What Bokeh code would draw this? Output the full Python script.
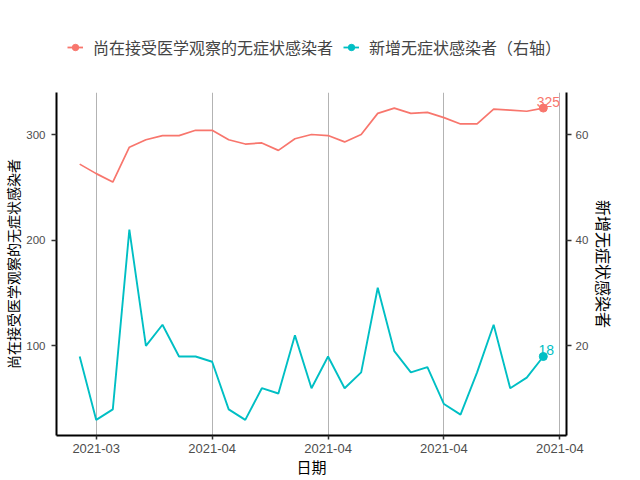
import pandas as pd
from bokeh.plotting import figure
from bokeh.layouts import column
from bokeh.models import (Range1d, LinearAxis, FixedTicker, DatetimeTickFormatter,
                          Legend, LegendItem, ColumnDataSource)
from bokeh.embed import file_html
from bokeh.resources import INLINE
from bokeh.core.properties import value

# ---------------- data ----------------
dates = ["2021-03-28", "2021-03-29", "2021-03-30", "2021-03-31", "2021-04-01",
         "2021-04-02", "2021-04-03", "2021-04-04", "2021-04-05", "2021-04-06",
         "2021-04-07", "2021-04-08", "2021-04-09", "2021-04-10", "2021-04-11",
         "2021-04-12", "2021-04-13", "2021-04-14", "2021-04-15", "2021-04-16",
         "2021-04-17", "2021-04-18", "2021-04-19", "2021-04-20", "2021-04-21",
         "2021-04-22", "2021-04-23", "2021-04-24", "2021-04-25"]
under_observation = [272, 263, 255, 288, 295, 299, 299, 304, 304, 295,
                     291, 292, 285, 296, 300, 299, 293, 300, 320, 325,
                     320, 321, 316, 310, 310, 324, 323, 322, 325]
new_cases = [18, 6, 8, 42, 20, 24, 18, 18, 17, 8,
             6, 12, 11, 22, 12, 18, 12, 15, 31, 19,
             15, 16, 9, 7, 15, 24, 12, 14, 18]
tick_dates = ["2021-03-29", "2021-04-05", "2021-04-12", "2021-04-19", "2021-04-26"]
left_ticks = [100, 200, 300]
right_ticks = [20, 40, 60]
name_obs = "尚在接受医学观察的无症状感染者"
name_new = "新增无症状感染者（右轴）"
x_title = "日期"
left_title = "尚在接受医学观察的无症状感染者"
right_title = "新增无症状感染者"

RED = "#F8766D"
CYAN = "#00BFC4"
CJK = "Noto Sans CJK SC"
LATIN = "Liberation Sans"

x = pd.to_datetime(dates)
src = ColumnDataSource(dict(x=x, obs=under_observation, new=new_cases))
last = ColumnDataSource(dict(x=x[-1:], obs=under_observation[-1:], new=new_cases[-1:],
                             obs_t=[str(under_observation[-1])], new_t=[str(new_cases[-1])]))

def ms(d):
    return (pd.Timestamp(d) - pd.Timestamp("1970-01-01")) // pd.Timedelta("1ms")

x0, x1 = ms(dates[0]), ms(dates[-1])
pad = (x1 - x0) * 0.05
ymin = min(min(under_observation), min(new_cases) * 5)
ymax = max(max(under_observation), max(new_cases) * 5)
ypad = (ymax - ymin) * 0.05

# ---------------- main chart ----------------
p = figure(width=640, height=400, x_axis_type="datetime", output_backend="svg",
           toolbar_location=None,
           x_range=Range1d(x0 - pad, x1 + pad),
           y_range=Range1d(ymin - ypad, ymax + ypad),
           min_border_left=55, min_border_right=74, min_border_top=12, min_border_bottom=45)
p.extra_y_ranges = {"right": Range1d((ymin - ypad) / 5, (ymax + ypad) / 5)}
p.outline_line_color = None
p.background_fill_color = "white"

tick_ms = [ms(d) for d in tick_dates]
fmt = "%Y-%m"
p.xaxis[0].ticker = FixedTicker(ticks=tick_ms)
p.xaxis[0].formatter = DatetimeTickFormatter(
    milliseconds=fmt, seconds=fmt, minsec=fmt, minutes=fmt, hourmin=fmt,
    hours=fmt, days=fmt, months=fmt, years=fmt)
p.xgrid.ticker = FixedTicker(ticks=tick_ms)
p.xgrid.grid_line_color = "#B3B3B3"
p.xgrid.grid_line_width = 1
p.ygrid.visible = False

p.yaxis[0].ticker = FixedTicker(ticks=left_ticks)
right_axis = LinearAxis(y_range_name="right", ticker=FixedTicker(ticks=right_ticks))
p.add_layout(right_axis, "right")

p.xaxis.axis_label = x_title
p.yaxis[0].axis_label = left_title
right_axis.axis_label = right_title

for ax in p.xaxis + p.yaxis:
    ax.axis_line_color = "black"
    ax.axis_line_width = 2
    ax.major_tick_line_color = "#333333"
    ax.major_tick_line_width = 1.5
    ax.major_tick_out = 5
    ax.major_tick_in = 0
    ax.minor_tick_line_color = None
    ax.major_label_text_font = LATIN
    ax.major_label_text_font_size = "11.5px"
    ax.major_label_text_color = "#4D4D4D"
    ax.major_label_standoff = 6
    ax.axis_label_text_font = CJK
    ax.axis_label_text_font_style = "normal"
    ax.axis_label_text_color = "black"
    ax.axis_label_standoff = 0

p.xaxis[0].major_label_text_font_size = "13px"
p.xaxis[0].major_label_standoff = 4
p.xaxis[0].major_tick_out = 4
p.xaxis[0].axis_label_text_font_size = "15px"
p.yaxis[0].axis_label_text_font_size = "14px"
right_axis.axis_label_text_font_size = "16px"
right_axis.axis_label_standoff = 1
right_axis.major_label_standoff = 4

p.line("x", "obs", source=src, line_color=RED, line_width=1.7)
p.line("x", "new", source=src, line_color=CYAN, line_width=1.9, y_range_name="right")
p.scatter("x", "obs", source=last, size=8, color=RED)
p.scatter("x", "new", source=last, size=8, color=CYAN, y_range_name="right")
p.text("x", "obs", text="obs_t", source=last, text_color=RED, text_font=value(LATIN),
       text_font_size="14px", text_align="center", text_baseline="bottom", x_offset=5, y_offset=-1)
p.text("x", "new", text="new_t", source=last, text_color=CYAN, text_font=value(LATIN),
       text_font_size="14px", text_align="center", text_baseline="bottom", x_offset=3, y_offset=-1,
       y_range_name="right")

# ---------------- legend strip ----------------
lf = figure(width=640, height=80, output_backend="svg", toolbar_location=None,
            x_axis_location=None, y_axis_location=None,
            x_range=Range1d(0, 1), y_range=Range1d(0, 1),
            min_border_left=0, min_border_right=0, min_border_top=0, min_border_bottom=0)
lf.grid.visible = False
lf.outline_line_color = None
# legend-only renderers: same data, lying far outside this strip's ranges
ll1 = lf.line("x", "obs", source=src, line_color=RED, line_width=1.8)
ls1 = lf.scatter("x", "obs", source=last, size=8, color=RED)
ll2 = lf.line("x", "new", source=src, line_color=CYAN, line_width=1.8)
ls2 = lf.scatter("x", "new", source=last, size=8, color=CYAN)
legend = Legend(items=[LegendItem(label=name_obs, renderers=[ll1, ls1]),
                       LegendItem(label=name_new, renderers=[ll2, ls2])],
                orientation="horizontal", location=(11, 21),
                border_line_color=None, background_fill_alpha=0,
                label_text_font=CJK, label_text_font_size="16px",
                glyph_width=16, glyph_height=16, label_standoff=10, spacing=10,
                padding=0, margin=0)
lf.add_layout(legend, "center")

layout = column(lf, p, spacing=0)
open("out.html", "w").write(file_html(layout, INLINE))
